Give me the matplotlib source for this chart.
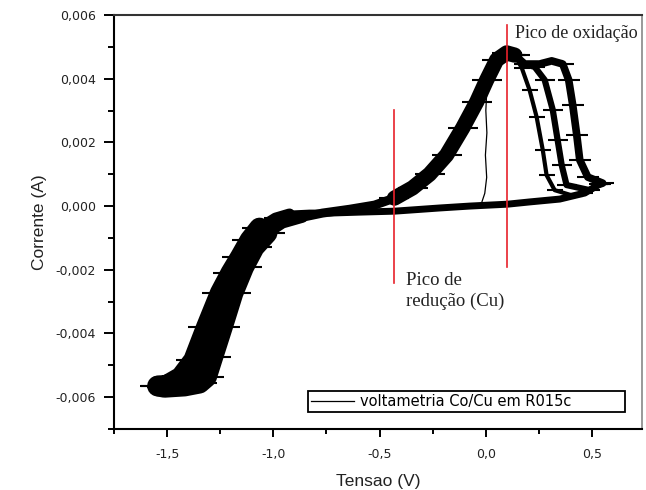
import matplotlib
matplotlib.use("Agg")
import matplotlib.pyplot as plt
from matplotlib.ticker import MultipleLocator, FuncFormatter

# Cyclic voltammetry of Co/Cu on R015c (potential in V, current in A)

# cathodic sweep, from the anodic vertex down to the negative limit
v_cat = [0.536, 0.466, 0.348, 0.206, 0.103, -0.076, -0.218, -0.43, -0.594,
         -0.736, -0.83, -0.924, -0.99, -1.065, -1.11, -1.155, -1.2, -1.25,
         -1.315, -1.375, -1.435, -1.5, -1.54]
i_cat = [0.00069, 0.00041, 0.00022, 0.00013, 0.00006, 0.0, -0.00006,
         -0.00016, -0.00019, -0.00022, -0.00022, -0.00025, -0.00038,
         -0.00069, -0.00107, -0.0016, -0.0021, -0.00273, -0.0038,
         -0.00484, -0.00537, -0.00562, -0.00565]

# anodic sweep, rising to the main oxidation peak
v_an = [-1.545, -1.512, -1.418, -1.348, -1.315, -1.285, -1.24, -1.19,
        -1.14, -1.09, -1.03, -0.957, -0.863, -0.769, -0.641, -0.524,
        -0.43, -0.345, -0.265, -0.185, -0.109, -0.043, 0.004, 0.051,
        0.098, 0.136]
i_an = [-0.00565, -0.00569, -0.00565, -0.00556, -0.00537, -0.00474,
        -0.0038, -0.00273, -0.00192, -0.00129, -0.00085, -0.00053,
        -0.00035, -0.00022, -0.0001, 0.00003, 0.00025, 0.00057, 0.001,
        0.0016, 0.00245, 0.00327, 0.00396, 0.00459, 0.00481, 0.00474]

# stripping tails of the successive cycles after the main peak
v_tail_1 = [0.136, 0.169, 0.206, 0.239, 0.268, 0.286, 0.324, 0.418, 0.536]
i_tail_1 = [0.00474, 0.00434, 0.00364, 0.0028, 0.00176, 0.00097, 0.0005,
            0.00031, 0.00069]
v_tail_2 = [0.136, 0.183, 0.23, 0.277, 0.315, 0.338, 0.357, 0.38, 0.489,
            0.536]
i_tail_2 = [0.00474, 0.00446, 0.00437, 0.00396, 0.00302, 0.00207, 0.00129,
            0.00066, 0.0005, 0.00069]
v_tail_3 = [0.136, 0.183, 0.253, 0.31, 0.362, 0.39, 0.409, 0.428, 0.442,
            0.48, 0.55, 0.536]
i_tail_3 = [0.00474, 0.00446, 0.00446, 0.00456, 0.00446, 0.00396, 0.00317,
            0.00223, 0.00145, 0.00091, 0.00072, 0.00069]

# early reversal of the first cycle
v_first = [0.03, 0.005, 0.0, 0.005, -0.002, 0.004, -0.005, -0.02, -0.05]
i_first = [0.0040, 0.0037, 0.003, 0.0023, 0.0016, 0.0009, 0.0004, 0.0001,
           0.00002]

# marker potentials
v_red_peak = -0.43
v_ox_peak = 0.10

series_label = "voltametria Co/Cu em R015c"

fig = plt.figure(figsize=(6.46, 4.90), dpi=100)
ax = fig.add_axes([114 / 646, 61 / 490, 528 / 646, 414 / 490])

band = dict(color="black", marker="_", markeredgewidth=1.5,
            solid_capstyle="round", solid_joinstyle="round")
# the scatter of the cycles is narrow on the flat part of the sweeps
# and broad on the deposition wave
ax.plot(v_cat[:12], i_cat[:12], lw=5, markersize=12, **band)
ax.plot(v_cat[11:14], i_cat[11:14], lw=8, markersize=16, **band)
ax.plot(v_cat[13:], i_cat[13:], lw=15, markersize=26, **band)
ax.plot(v_an[:11], i_an[:11], lw=15, markersize=26, **band)
ax.plot(v_an[9:13], i_an[9:13], lw=8, markersize=16, **band)
ax.plot(v_an[12:17], i_an[12:17], lw=6.5, markersize=14, **band)
ax.plot(v_an[16:], i_an[16:], lw=11, markersize=22, **band)
ax.plot(v_tail_1, i_tail_1, lw=3, markersize=12, **band)
ax.plot(v_tail_2, i_tail_2, lw=4.5, markersize=14, **band)
ax.plot(v_tail_3, i_tail_3, lw=5.5, markersize=16, **band)
first, = ax.plot(v_first, i_first, color="black", lw=0.9, label=series_label)

ax.plot([v_red_peak, v_red_peak], [0.00302, -0.00242], color="#e8212b", lw=1.2)
ax.plot([v_ox_peak, v_ox_peak], [0.00569, -0.00192], color="#e8212b", lw=1.2)

serif = ["Liberation Serif", "DejaVu Serif"]
ax.text(0.135, 0.00528, "Pico de oxidação", family=serif, fontsize=13,
        va="baseline", ha="left", color="#222222")
ax.text(-0.378, -0.00208, "Pico de\nredução (Cu)", family=serif,
        fontsize=13.5, va="top", ha="left", linespacing=1.25,
        color="#222222")

ax.set_xlim(-1.75, 0.735)
ax.set_ylim(-0.007, 0.006)

ax.xaxis.set_major_locator(MultipleLocator(0.5))
ax.xaxis.set_minor_locator(MultipleLocator(0.25))
ax.yaxis.set_major_locator(MultipleLocator(0.002))
ax.yaxis.set_minor_locator(MultipleLocator(0.001))


def comma_fmt(decimals):
    def fmt(v, pos):
        s = f"{v:.{decimals}f}"
        if s.startswith("-") and float(s) == 0:
            s = s[1:]
        return s.replace(".", ",")
    return fmt


ax.xaxis.set_major_formatter(FuncFormatter(comma_fmt(1)))
ax.yaxis.set_major_formatter(FuncFormatter(comma_fmt(3)))

ax.tick_params(axis="both", which="both", direction="out", top=False,
               right=False, colors="black", labelcolor="#222222")
ax.tick_params(axis="x", which="major", length=6, width=1.4, labelsize=9,
               pad=8)
ax.tick_params(axis="x", which="minor", length=3.5, width=1.4)
ax.tick_params(axis="y", which="major", length=7, width=1.4, labelsize=9,
               pad=6)
ax.tick_params(axis="y", which="minor", length=4, width=1.4)
for lab in ax.get_xticklabels() + ax.get_yticklabels():
    lab.set_family("DejaVu Sans")

for side in ("left", "bottom"):
    ax.spines[side].set_linewidth(1.5)
    ax.spines[side].set_color("black")
ax.spines["top"].set_linewidth(1.5)
ax.spines["top"].set_color("#333333")
ax.spines["right"].set_linewidth(1.2)
ax.spines["right"].set_color("#888888")

ax.set_xlabel("Tensao (V)", family="Liberation Sans", fontsize=12.5,
              labelpad=9, color="#222222")
ax.set_ylabel("Corrente (A)", family="Liberation Sans", fontsize=12.5,
              labelpad=6, color="#222222")

leg = ax.legend(handles=[first], loc="lower left",
                bbox_to_anchor=(0.367, 0.041, 0.601, 0.0556), mode="expand",
                borderaxespad=0, fancybox=False, edgecolor="black",
                framealpha=1, handlelength=3.0, handletextpad=0.4,
                borderpad=0.2, prop={"family": "DejaVu Sans", "size": 10.5})
leg.get_frame().set_linewidth(1.3)

fig.savefig("out.png", dpi=100)
